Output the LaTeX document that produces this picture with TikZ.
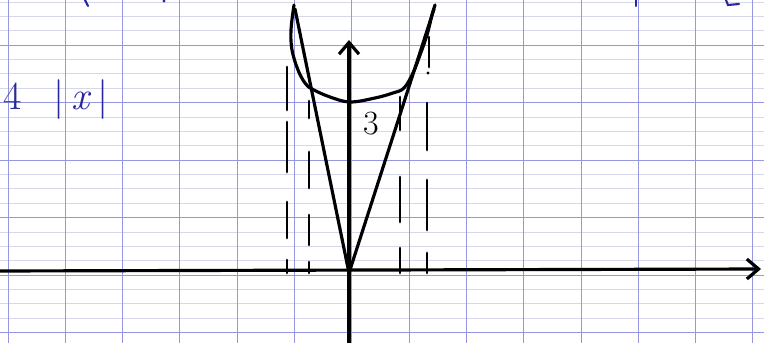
\documentclass[tikz,border=0pt]{standalone}
\usepackage{amsmath,amssymb}
\usepackage{xcolor}
\usepackage{tikz}
\usetikzlibrary{arrows.meta}
\definecolor{ink}{RGB}{40,40,160}
\definecolor{gridmaj}{RGB}{150,150,225}
\definecolor{gridmin}{RGB}{215,215,236}

\begin{document}
\begin{tikzpicture}[x=0.03cm,y=0.03cm,
    pen/.style={line width=2.7pt,line cap=round,line join=round},
    dashpen/.style={line width=2.4pt,line cap=round},
    axis/.style={pen,-{Straight Barb[length=10pt,width=17pt]}},
    inkpen/.style={ink,line width=1.8pt,line cap=round}]
    \useasboundingbox (-349,-70) rectangle (415,273);
    % Paper
    \fill[white] (-349,-70) rectangle (415,273);
    \foreach \j in {-20,...,3}
      \draw[gridmin,line width=0.6pt] (-349,228+14.375*\j) -- (415,228+14.375*\j);
    \foreach \j in {0,...,5}
      \draw[gridmaj,line width=0.8pt] (-349,228-57.5*\j) -- (415,228-57.5*\j);
    \foreach \k in {0,...,13}
      \draw[gridmaj,line width=0.8pt] (-341+57.3*\k,-70) -- (-341+57.3*\k,273);
    % Ink cut off at the top
    \draw[inkpen] (-264,273) -- (-261,267);
    \fill[ink] (-185,272) circle (1.6);
    \draw[inkpen] (287,273) -- (287,267);
    \draw[inkpen] (377,273) -- (379,268) -- (390,269);
    % Axes
    \coordinate (O) at (0,0);
    \coordinate (xl) at (-349,2);
    \coordinate (xr) at (412,4);
    \coordinate (yb) at (0,-70);
    \coordinate (yt) at (0,233);
    \draw[axis] (xl) -- (xr);
    \draw[axis] (yb) -- (yt);
    % Curves
    \coordinate (A) at (-54,264);
    \coordinate (B) at (85,264);
    \draw[pen] (A) -- (O) -- (B);
    \draw[pen] plot[smooth,tension=0.6] coordinates {(-55,268) (-58,243) (-57,223)
      (-51,203) (-44,190) (-37,184) (-19,176) (1,171) (26,175) (44,180) (55,185)
      (64,200) (71,218) (78,238) (83,258) (86,268)};
    % Dashes
    \foreach \x/\a/\b in {-62/163/206, -62/101/151, -62/35/71, -62/0/13,
                          -40/155/172, -40/85/121, -40/28/58, -40/0/11,
                          51/143/176, 51/51/96, 51/0/25,
                          80/206/236, 78/123/170, 78/43/93, 78/0/20}
      \draw[dashpen] (\x,\a) -- (\x,\b);
    \fill (79,200) circle (1.6);
    % Labels
    \node[font=\fontsize{29}{33}\selectfont] (three) at (22,149) {3};
    \node[ink,font=\fontsize{34}{38}\selectfont,anchor=base west,inner sep=0pt] (fn)
      at (-346,163) {4\hspace{0.95cm}|\kern6pt\textit{x}\kern5pt|};
\end{tikzpicture}
\end{document}
